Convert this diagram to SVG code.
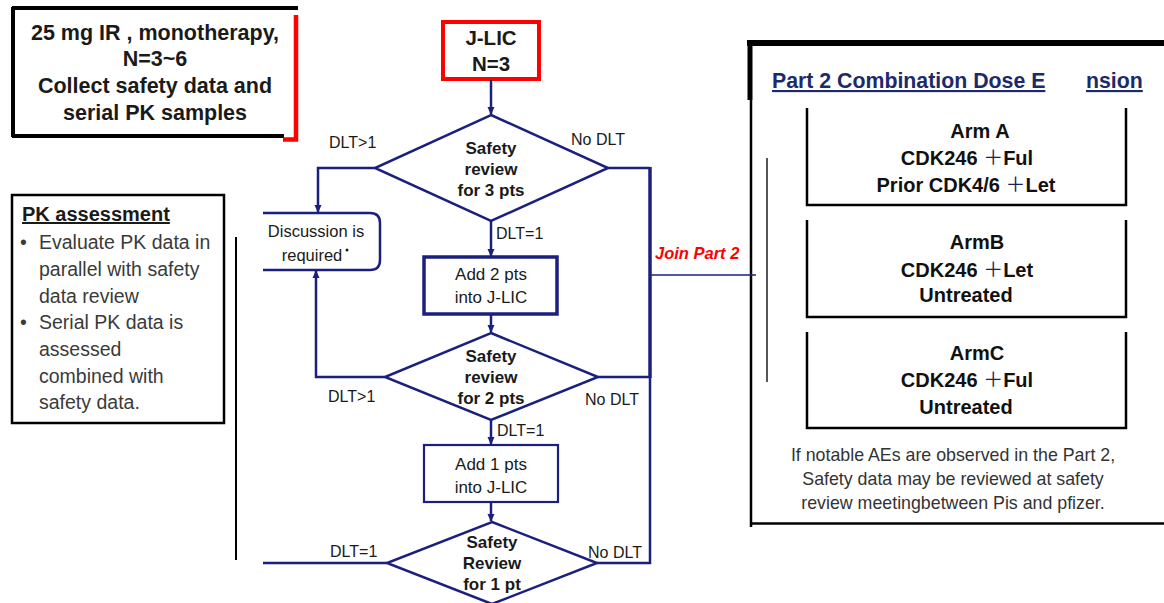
<svg xmlns="http://www.w3.org/2000/svg" width="1164" height="603" viewBox="0 0 1164 603">
<style>
.nv{fill:none;stroke:#1b1f7d;stroke-width:2.5}
.bk{fill:none;stroke:#000;stroke-width:2.5}
.t{font-family:"Liberation Sans",Arial,sans-serif;fill:#1a1a1a}
.b{font-weight:bold}
.c{text-anchor:middle}
.lab{font-family:"Liberation Sans",Arial,sans-serif;font-size:16px;fill:#1a1a1a}
.arm{font-family:"Liberation Sans",Arial,sans-serif;font-size:20px;font-weight:bold;fill:#111;text-anchor:middle}
.pl{fill:#1b1f5a;font-family:"Noto Sans CJK SC","Liberation Sans",sans-serif;font-weight:normal}
.pk{font-family:"Liberation Sans",Arial,sans-serif;font-size:19.5px;fill:#3a3a3a}
.fn{font-family:"Liberation Sans",Arial,sans-serif;font-size:17.8px;fill:#333;text-anchor:middle}
</style>
<defs>
<marker id="ah" markerWidth="8" markerHeight="8" refX="7" refY="4" orient="auto" markerUnits="userSpaceOnUse">
<path d="M0,0.5 L8,4 L0,7.5 Z" fill="#1b1f7d"/>
</marker>
</defs>
<rect width="1164" height="603" fill="#fff"/>

<g id="intro-box">
<path d="M12,8 H298 M13,7 V137 M12,136 H284" fill="none" stroke="#000" stroke-width="4"/>
<path d="M296,15 V141 M283,139.5 H298" fill="none" stroke="#f00" stroke-width="4.5"/>
<text class="t b c" font-size="21.5" x="155" y="40">25 mg IR , monotherapy,</text>
<text class="t b c" font-size="21.5" x="155" y="66">N=3~6</text>
<text class="t b c" font-size="21.5" x="155" y="93">Collect safety data and</text>
<text class="t b c" font-size="21.5" x="155" y="120">serial PK samples</text>
</g>

<g id="pk-box">
<rect x="12" y="195" width="212" height="228" class="bk"/>
<line x1="236" y1="237" x2="236" y2="560" stroke="#000" stroke-width="2"/>
<text class="t b" font-size="20" x="22" y="221" text-decoration="underline">PK assessment</text>
<text class="pk" x="20" y="249" font-size="16">•</text>
<text class="pk" x="39" y="249">Evaluate PK data in</text>
<text class="pk" x="39" y="276">parallel with safety</text>
<text class="pk" x="39" y="303">data review</text>
<text class="pk" x="20" y="329" font-size="16">•</text>
<text class="pk" x="39" y="329">Serial PK data is</text>
<text class="pk" x="39" y="356">assessed</text>
<text class="pk" x="39" y="383">combined with</text>
<text class="pk" x="39" y="409">safety data.</text>
</g>

<g id="jlic">
<rect x="443" y="22" width="96" height="57" fill="none" stroke="#f00" stroke-width="4"/>
<text class="t b c" font-size="20.5" x="491" y="45">J-LIC</text>
<text class="t b c" font-size="20.5" x="491" y="71">N=3</text>
</g>

<g id="review3">
<polygon points="491,115 608,168 491,221 375,168" class="nv"/>
<text class="t b c" font-size="17" x="491" y="154">Safety</text>
<text class="t b c" font-size="17" x="491" y="175">review</text>
<text class="t b c" font-size="17" x="491" y="196">for 3 pts</text>
</g>

<g id="discussion">
<path d="M263,213 H370 Q380,213 380,223 V260 Q380,270 370,270 H263" class="nv"/>
<text class="t c" font-size="16.5" x="316" y="237">Discussion is</text>
<text class="t c" font-size="16.5" x="312" y="261">required</text>
<circle cx="347" cy="250" r="1.5" fill="#1a1a1a"/>
</g>

<g id="add2">
<rect x="424" y="257" width="133" height="57" fill="none" stroke="#1b1f7d" stroke-width="3.5"/>
<text class="t c" font-size="17" x="491" y="280">Add 2 pts</text>
<text class="t c" font-size="17" x="491" y="303">into J-LIC</text>
</g>

<g id="review2">
<polygon points="491,333 598,377 491,420 385,377" class="nv"/>
<text class="t b c" font-size="17" x="491" y="362">Safety</text>
<text class="t b c" font-size="17" x="491" y="383">review</text>
<text class="t b c" font-size="17" x="491" y="404">for 2 pts</text>
</g>

<g id="add1">
<rect x="424" y="445" width="134" height="57" fill="none" stroke="#1b1f7d" stroke-width="2.2"/>
<text class="t c" font-size="17" x="491" y="470">Add 1 pts</text>
<text class="t c" font-size="17" x="491" y="493">into J-LIC</text>
</g>

<g id="review1">
<polygon points="492,522 597,563 492,604 387,563" class="nv"/>
<text class="t b c" font-size="17" x="492" y="548">Safety</text>
<text class="t b c" font-size="17" x="492" y="569">Review</text>
<text class="t b c" font-size="17" x="492" y="590">for 1 pt</text>
</g>

<g id="part2">
<path d="M747,43 H1164" stroke="#000" stroke-width="6" fill="none"/>
<path d="M750,40 V100" stroke="#000" stroke-width="5" fill="none"/>
<path d="M751,100 V527 M751,523.5 H1164" stroke="#000" stroke-width="2.5" fill="none"/>
<line x1="767" y1="158" x2="767" y2="382" stroke="#555" stroke-width="2"/>
<text class="t b" font-size="21.3" x="772" y="88" style="fill:#1c2a6b" text-decoration="underline">Part 2 Combination Dose E</text>
<text class="t b" font-size="21.3" x="1086" y="88" style="fill:#1c2a6b" text-decoration="underline">nsion</text>
<text class="fn" x="953" y="461">If notable AEs are observed in the Part 2,</text>
<text class="fn" x="953" y="485">Safety data may be reviewed at safety</text>
<text class="fn" x="953" y="509">review meetingbetween Pis and pfizer.</text>
</g>

<g id="armA">
<path d="M807,108 V205 H1126 V108" class="bk"/>
<text class="arm" x="980" y="138">Arm A</text>
<text class="arm" x="967" y="165">CDK246 <tspan class="pl">＋</tspan>Ful</text>
<text class="arm" x="966" y="192">Prior CDK4/6 <tspan class="pl">＋</tspan>Let</text>
</g>

<g id="armB">
<path d="M807,220 V317 H1126 V220" class="bk"/>
<text class="arm" x="977" y="249">ArmB</text>
<text class="arm" x="967" y="277">CDK246 <tspan class="pl">＋</tspan>Let</text>
<text class="arm" x="966" y="302">Untreated</text>
</g>

<g id="armC">
<path d="M807,332 V428 H1126 V332" class="bk"/>
<text class="arm" x="977" y="360">ArmC</text>
<text class="arm" x="967" y="387">CDK246 <tspan class="pl">＋</tspan>Ful</text>
<text class="arm" x="966" y="414">Untreated</text>
</g>

<g id="connectors">
<line x1="491" y1="80" x2="491" y2="114" class="nv" stroke-width="2" marker-end="url(#ah)"/>
<polyline points="375,168 318,168 318,212" class="nv" marker-end="url(#ah)"/>
<line x1="491" y1="221" x2="491" y2="256" class="nv" stroke-width="3" marker-end="url(#ah)"/>
<line x1="491" y1="315" x2="491" y2="332" class="nv" stroke-width="2" marker-end="url(#ah)"/>
<polyline points="385,377 316,377 316,271" class="nv" marker-end="url(#ah)"/>
<line x1="491" y1="420" x2="491" y2="444" class="nv" stroke-width="3" marker-end="url(#ah)"/>
<line x1="491" y1="502" x2="491" y2="521" class="nv" stroke-width="2" marker-end="url(#ah)"/>
<polyline points="608,168 650,168" class="nv"/>
<line x1="650" y1="167" x2="650" y2="378" stroke="#1b1f7d" stroke-width="3.5"/>
<polyline points="598,377 650,377" class="nv"/>
<polyline points="597,563 650,563 650,377" class="nv"/>
<line x1="650" y1="275" x2="756" y2="275" stroke="#1b1f7d" stroke-width="1.5"/>
<line x1="387" y1="563" x2="263" y2="563" class="nv"/>
<text class="lab" x="329" y="148">DLT&gt;1</text>
<text class="lab" x="571" y="145">No DLT</text>
<text class="lab" x="496" y="239">DLT=1</text>
<text x="655" y="259" font-family="Liberation Sans,Arial,sans-serif" font-size="16.5" font-weight="bold" font-style="italic" fill="#f00">Join Part 2</text>
<text class="lab" x="328" y="402">DLT&gt;1</text>
<text class="lab" x="585" y="405">No DLT</text>
<text class="lab" x="497" y="436">DLT=1</text>
<text class="lab" x="330" y="557">DLT=1</text>
<text class="lab" x="588" y="558">No DLT</text>
</g>
</svg>
